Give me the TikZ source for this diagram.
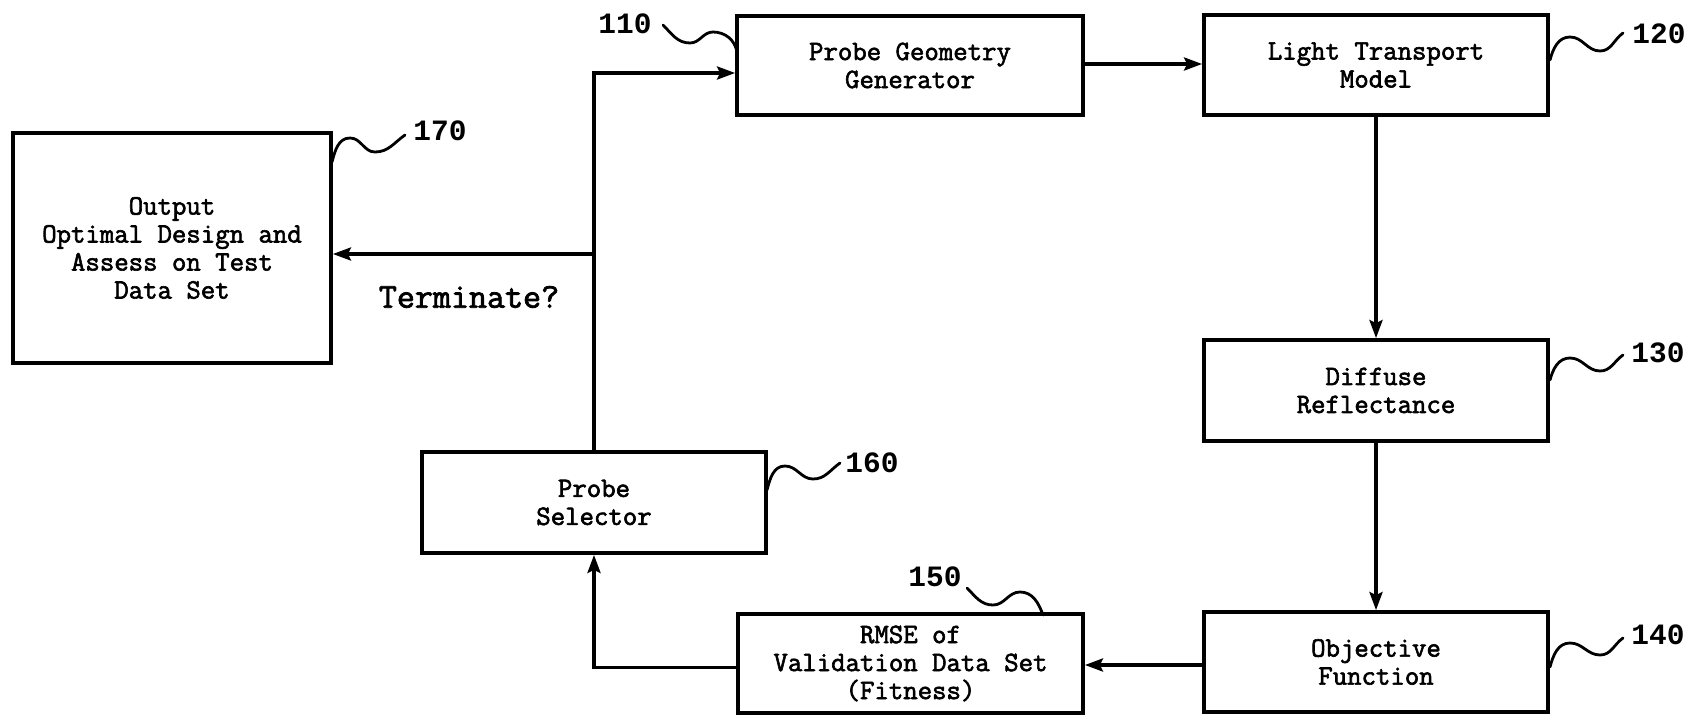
\documentclass[tikz,border=0pt]{standalone}
\usepackage{fontspec}
\newfontfamily\lblfont{Liberation Mono}
\newfontfamily\boxfont{Latin Modern Mono}[FakeBold=2.2]
\usetikzlibrary{arrows.meta,calc}
\tikzset{
  box/.style={draw, line width=3.8pt, align=center, inner sep=0pt,
    font=\fontsize{28}{28}\selectfont\boxfont},
  conn/.style={line width=3.2pt},
  arr/.style={conn, -{Stealth[length=18pt,width=13pt,inset=3pt]}},
  lead/.style={line width=2.8pt, line cap=round},
  num/.style={inner sep=0pt, font=\fontsize{29.5}{30}\selectfont\lblfont\bfseries},
  term/.style={inner sep=0pt, font=\fontsize{35}{36}\selectfont\boxfont}
}
\begin{document}
\begin{tikzpicture}[x=1pt,y=1pt]
\useasboundingbox (0,0) rectangle (1702,-720);
% boxes
\node[box, minimum width=346pt, minimum height=99pt] (b110) at (910,-65.5) {Probe Geometry\\Generator};
\node[box, minimum width=344pt, minimum height=100pt] (b120) at (1376,-65) {Light Transport\\Model};
\node[box, minimum width=344pt, minimum height=101pt] (b130) at (1376,-390.5) {Diffuse\\Reflectance};
\node[box, minimum width=344pt, minimum height=100pt] (b140) at (1376,-662) {Objective\\Function};
\node[box, minimum width=345pt, minimum height=99pt] (b150) at (910.5,-663.5) {RMSE of\\Validation Data Set\\(Fitness)};
\node[box, minimum width=344pt, minimum height=101pt] (b160) at (594,-502.5) {Probe\\Selector};
\node[box, minimum width=318pt, minimum height=230pt] (b170) at (172,-248) {Output\\Optimal Design and\\Assess on Test\\Data Set};
% labels
\node[num] (l110) at (625,-24) {110};
\node[num] (l120) at (1659,-34) {120};
\node[num] (l130) at (1658,-353) {130};
\node[num] (l140) at (1658,-635) {140};
\node[num] (l150) at (935,-577) {150};
\node[num] (l160) at (872,-463) {160};
\node[num] (l170) at (440,-131) {170};
\node[term] (term) at (469,-297) {Terminate?};
% connectors
\coordinate (top) at (594,-73);
\coordinate (br) at (594,-254);
\draw[arr] ([yshift=1.5pt]b110.east) -- ([yshift=1.5pt]b110.east -| b120.west);
\draw[arr] (b120) -- (b130);
\draw[arr] (b130) -- (b140);
\draw[arr] ([yshift=-3pt]b140.west) -- ([yshift=-3pt]b140.west -| b150.east);
\draw[arr] ([yshift=-4pt]b150.west) -| (b160.south);
\draw[arr] (b160.north) -- (top) -- (top -| b110.west);
\draw[arr] (br) -- (br -| b170.east);
% leader squiggles
\draw[lead] (663,-25) to[out=-45,in=180] (690,-43) to[out=0,in=180] (713,-32) to[out=0,in=100] (737,-52);
\draw[lead] (1550,-60) to[out=75,in=180] (1570,-37) to[out=0,in=180] (1600,-51) to[out=0,in=215] (1623,-33);
\draw[lead] (1550,-380) to[out=75,in=180] (1570,-358) to[out=0,in=180] (1600,-371) to[out=0,in=215] (1623,-355);
\draw[lead] (1550,-667) to[out=75,in=180] (1570,-643) to[out=0,in=180] (1600,-655) to[out=0,in=215] (1623,-638);
\draw[lead] (967,-588) to[out=-45,in=180] (993,-605) to[out=0,in=180] (1020,-592) to[out=0,in=110] (1043,-615);
\draw[lead] (767,-490) to[out=75,in=180] (785,-466) to[out=0,in=180] (813,-479) to[out=0,in=215] (840,-463);
\draw[lead] (332,-162) to[out=75,in=180] (350,-138) to[out=0,in=180] (375,-152) to[out=0,in=215] (405,-135);
\end{tikzpicture}
\end{document}
